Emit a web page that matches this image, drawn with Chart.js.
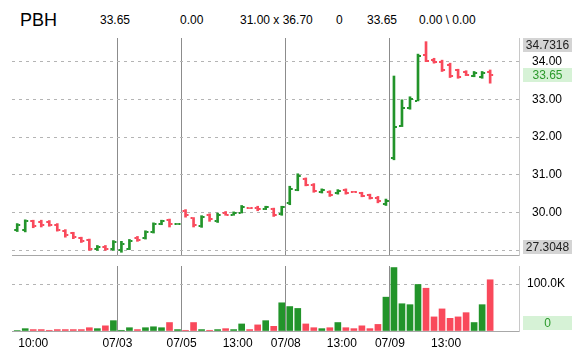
<!DOCTYPE html>
<html>
<head>
<meta charset="utf-8">
<script src="https://cdn.jsdelivr.net/npm/chart.js@4.4.0/dist/chart.umd.min.js"></script>
<style>
  body { margin: 0; background: #fff; width: 580px; height: 360px; overflow: hidden; font-family: Arial, "Liberation Sans", sans-serif; }
  .h { position: absolute; top: 14px; font-size: 12px; line-height: 12px; color: #000; white-space: pre; }
  #price { position: absolute; left: 0; top: 0; }
  #vol { position: absolute; left: 0; top: 260px; }
</style>
</head>
<body>
<div class="h" style="left:20px;top:11px;font-size:18px;line-height:18px">PBH</div>
<div class="h" style="left:100px">33.65</div>
<div class="h" style="left:180px">0.00</div>
<div class="h" style="left:240px">31.00 x 36.70</div>
<div class="h" style="left:336px">0</div>
<div class="h" style="left:367px">33.65</div>
<div class="h" style="left:419px">0.00 \ 0.00</div>

<canvas id="price" width="580" height="260"></canvas>
<canvas id="vol" width="580" height="100"></canvas>

<script>
// --- DATA (30-min bars) ---
const opens  = [29.55,29.55,29.78,29.75,29.76,29.68,29.52,29.45,29.33,29.27,29.03,29.10,29.05,
                29.00,29.05,29.32,29.32,29.50,29.70,29.80,29.70,
                30.05,29.85,29.65,29.93,29.78,30.00,29.94,30.00,30.13,30.13,30.10,30.10,29.96,
                30.25,30.60,30.90,30.72,30.55,30.55,30.52,30.60,30.56,30.52,30.46,30.40,30.22,
                31.45,32.30,32.78,32.97,34.18,34.05,34.00,33.90,33.78,33.72,33.63,33.60,33.72];
const highs  = [29.71,29.81,29.80,29.80,29.79,29.71,29.55,29.48,29.35,29.30,29.13,29.13,29.26,
                29.24,29.29,29.37,29.52,29.73,29.80,29.83,29.71,
                30.08,29.87,29.92,29.97,29.99,30.03,30.02,30.19,30.13,30.17,30.17,30.12,30.17,
                30.70,31.03,30.92,30.77,30.63,30.58,30.61,30.63,30.56,30.54,30.49,30.43,30.36,
                33.62,32.99,33.07,34.20,34.53,34.09,34.04,33.96,33.80,33.76,33.74,33.74,33.78];
const lows   = [29.50,29.49,29.60,29.62,29.64,29.51,29.35,29.31,29.21,29.00,29.00,29.00,29.00,
                28.95,29.02,29.24,29.30,29.46,29.68,29.62,29.69,
                29.88,29.62,29.61,29.77,29.74,29.93,29.93,29.99,30.11,30.05,30.08,29.90,29.93,
                30.21,30.58,30.71,30.54,30.52,30.43,30.49,30.49,30.54,30.42,30.36,30.26,30.19,
                31.40,32.28,32.74,32.96,34.00,33.96,33.74,33.58,33.56,33.63,33.60,33.56,33.43];
const closes = [29.68,29.78,29.65,29.68,29.66,29.55,29.40,29.36,29.25,29.05,29.10,29.03,29.22,
                29.18,29.25,29.27,29.48,29.70,29.77,29.70,29.71,
                29.93,29.68,29.88,29.82,29.95,29.95,30.00,30.15,30.11,30.10,30.15,29.95,30.15,
                30.62,30.97,30.73,30.58,30.60,30.47,30.58,30.52,30.54,30.45,30.40,30.30,30.32,
                32.26,32.78,33.00,34.15,34.03,33.98,33.78,33.62,33.60,33.66,33.70,33.70,33.65];
// volume in thousands
const volumes = [1,5,3,3,1.5,3,3,3,3,7,5,11,22,
                 1.5,7,3,7,9,7,18,3,
                 1.5,18,3,1.5,3,5,3,15,3,13,22,10,60,
                 52,48,15,7,5,7,18,7,5,11,5,14,72,
                 135,58,56,99,91,30,47,27,30,39,18,56,109];

const xTickValues = [2.5, 13, 21, 28, 34, 41, 47, 54];
const xTickLabels = ['10:00', '07/03', '07/05', '13:00', '07/08', '13:00', '07/09', '13:00'];
const daySplits = [13, 21, 34, 47];
const priceTicks = [29, 30, 31, 32, 33, 34];
const volTicks = [0, 100];

const hiLabel = '34.7316';
const loLabel = '27.3048';
const lastPrice = 33.65;

// --- STYLE ---
const FONT = 'Arial, "Liberation Sans", sans-serif';
const GREEN = '#22942a';
const RED = '#f9495b';
const X_MIN = -0.15, X_MAX = 63.1;

Chart.defaults.font.family = FONT;
Chart.defaults.font.size = 12;
Chart.defaults.color = '#000';

const barColor = i => closes[i] >= opens[i] ? GREEN : RED;

// keep label overhang from shrinking the plot area
const noPad = s => { s.paddingTop = 0; s.paddingBottom = 0; s.paddingLeft = 0; s.paddingRight = 0; };

// open / close ticks drawn on top of the high-low bars
const ohlcTicks = {
    id: 'ohlcTicks',
    afterDatasetsDraw(chart) {
        const { ctx, scales: { x, y } } = chart;
        ctx.save();
        opens.forEach((o, i) => {
            const px = x.getPixelForValue(i + 0.5);
            ctx.fillStyle = barColor(i);
            ctx.fillRect(px - 3, Math.round(y.getPixelForValue(o)) - 1, 2, 2);
            ctx.fillRect(px + 1, Math.round(y.getPixelForValue(closes[i])) - 1, 2, 2);
        });
        ctx.restore();
    }
};

function drawBox(ctx, text, cy, fill, color) {
    ctx.save();
    ctx.fillStyle = fill;
    ctx.fillRect(523, Math.round(cy) - 7, 49, 14);
    ctx.fillStyle = color;
    ctx.font = '12px ' + FONT;
    ctx.textAlign = 'center';
    ctx.textBaseline = 'middle';
    ctx.fillText(text, 547.5, Math.round(cy) + 0.5);
    ctx.restore();
}

const priceBoxes = {
    id: 'priceBoxes',
    afterDraw(chart) {
        const { ctx, chartArea, scales: { y } } = chart;
        drawBox(ctx, hiLabel, chartArea.top + 7, '#d4d4d4', '#222');
        drawBox(ctx, lastPrice.toFixed(2), y.getPixelForValue(lastPrice), '#d6f2d6', '#2c9a2c');
        drawBox(ctx, loLabel, chartArea.bottom - 8, '#d4d4d4', '#222');
    }
};

const volBoxes = {
    id: 'volBoxes',
    afterDraw(chart) {
        drawBox(chart.ctx, '0', chart.chartArea.bottom - 8, '#d6f2d6', '#2c9a2c');
    }
};

// --- PRICE CHART ---
new Chart(document.getElementById('price'), {
    type: 'bar',
    data: {
        datasets: [{
            data: opens.map((o, i) => ({ x: i + 0.5, y: [lows[i], highs[i]] })),
            backgroundColor: opens.map((o, i) => barColor(i)),
            barThickness: 2,
            borderWidth: 0
        }]
    },
    options: {
        responsive: false,
        animation: false,
        events: [],
        layout: { padding: { left: 12, right: 0, top: 38, bottom: 5 } },
        plugins: { legend: { display: false }, tooltip: { enabled: false } },
        scales: {
            x: {
                type: 'linear', min: X_MIN, max: X_MAX, offset: false, bounds: 'data',
                afterBuildTicks: s => { s.ticks = daySplits.map(v => ({ value: v })); },
                afterFit: s => { s.height = 0; noPad(s); },
                ticks: { display: false },
                grid: { color: '#8c8c8c', drawTicks: false, offset: false },
                border: { color: '#a8a8a8' }
            },
            y: {
                position: 'right', min: 28.878, max: 34.627, bounds: 'data', beginAtZero: false,
                afterBuildTicks: s => { s.ticks = priceTicks.map(v => ({ value: v })); },
                afterFit: s => { s.width = 61; noPad(s); },
                ticks: {
                    callback: v => v === 29 ? '' : v.toFixed(2),
                    crossAlign: 'near', padding: 13, color: '#000'
                },
                grid: { color: '#b4b4b4', drawTicks: false },
                border: { color: '#c8c8c8', dash: [3, 4] }
            }
        }
    },
    plugins: [ohlcTicks, priceBoxes]
});

// --- VOLUME CHART ---
new Chart(document.getElementById('vol'), {
    type: 'bar',
    data: {
        datasets: [{
            data: volumes.map((v, i) => ({ x: i + 0.5, y: v })),
            backgroundColor: volumes.map((v, i) => barColor(i)),
            barThickness: 6,
            borderWidth: 0
        }]
    },
    options: {
        responsive: false,
        animation: false,
        events: [],
        layout: { padding: { left: 12, right: 0, top: 6, bottom: 0 } },
        plugins: { legend: { display: false }, tooltip: { enabled: false } },
        scales: {
            x: {
                type: 'linear', min: X_MIN, max: X_MAX, offset: false, bounds: 'data',
                afterBuildTicks: s => { s.ticks = xTickValues.map(v => ({ value: v })); },
                afterFit: s => { s.height = 29; noPad(s); },
                ticks: {
                    callback: (v, i) => xTickLabels[i],
                    autoSkip: false, maxRotation: 0, padding: 5, color: '#000'
                },
                grid: {
                    offset: false, drawTicks: false,
                    color: c => (c.tick && daySplits.includes(c.tick.value)) ? '#8c8c8c' : 'rgba(0,0,0,0)'
                },
                border: { color: '#a8a8a8' }
            },
            y: {
                position: 'right', min: 0, max: 138.3, bounds: 'data',
                afterBuildTicks: s => { s.ticks = volTicks.map(v => ({ value: v })); },
                afterFit: s => { s.width = 61; noPad(s); },
                ticks: {
                    callback: v => v === 0 ? '' : v.toFixed(1) + 'K',
                    crossAlign: 'near', padding: 8, color: '#000'
                },
                grid: {
                    drawTicks: false,
                    color: c => (c.tick && c.tick.value === 0) ? 'rgba(0,0,0,0)' : '#b4b4b4'
                },
                border: { color: '#c8c8c8', dash: [3, 4] }
            }
        }
    },
    plugins: [volBoxes]
});
</script>
</body>
</html>
